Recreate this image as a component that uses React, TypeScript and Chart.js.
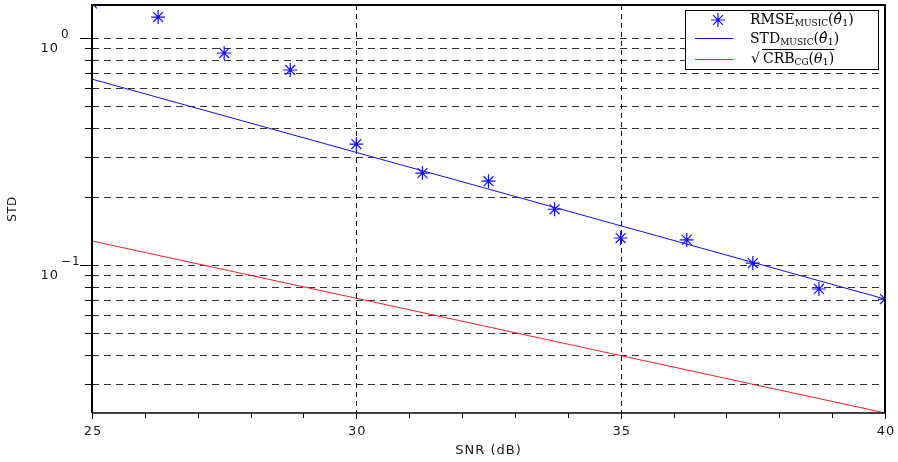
import React, { useEffect, useRef } from "react";
import { Chart, registerables } from "chart.js";

Chart.register(...registerables);

// ---- data ----
const snrPoints = [25, 26.25, 27.5, 28.75, 30, 31.25, 32.5, 33.75, 35, 36.25, 37.5, 38.75, 40];
const rmseMusic = [1.42, 1.237, 0.859, 0.723, 0.341, 0.254, 0.234, 0.176, 0.1315, 0.129, 0.102, 0.0784, 0.0708];
const lineSnr = [25, 40];
const stdMusic = [0.659, 0.0708];
const crbCG = [0.1276, 0.0223];

const xMajorTicks = [25, 30, 35, 40];
const xMinorTicks = [26, 27, 28, 29, 31, 32, 33, 34, 36, 37, 38, 39];
const xGridValues = [30, 35];
const yMajorTicks = [1, 0.1];
const yMajorLabels = [
  { base: "10", exp: "0" },
  { base: "10", exp: "\u22121" },
];
const yMinorTicks = [0.9, 0.8, 0.7, 0.6, 0.5, 0.4, 0.3, 0.2, 0.09, 0.08, 0.07, 0.06, 0.05, 0.04, 0.03];
const yMin = 0.02228;
const yMax = 1.398;

const BLUE = "#1010ff";
const RED = "#ff2020";

type Seg = { t: string; font: string; dy?: number };

function drawSegs(ctx: CanvasRenderingContext2D, x: number, y: number, segs: Seg[]) {
  let cx = x;
  for (const s of segs) {
    ctx.font = s.font;
    ctx.fillText(s.t, cx, y + (s.dy || 0));
    cx += ctx.measureText(s.t).width;
  }
  return cx;
}

const plotPlugin = {
  id: "plotDecor",
  beforeDraw(chart: any) {
    const { ctx, width, height } = chart;
    ctx.save();
    ctx.fillStyle = "#ffffff";
    ctx.fillRect(0, 0, width, height);
    ctx.restore();
  },
  beforeDatasetsDraw(chart: any) {
    const { ctx, chartArea: a, scales } = chart;
    const xs = scales.x;
    const ys = scales.y;
    ctx.save();
    ctx.lineWidth = 1;
    ctx.strokeStyle = "#333333";
    ctx.setLineDash([7, 5]);
    for (const v of [...yMajorTicks, ...yMinorTicks]) {
      const py = Math.round(ys.getPixelForValue(v)) + 0.5;
      ctx.beginPath();
      ctx.moveTo(a.left, py);
      ctx.lineTo(a.right, py);
      ctx.stroke();
    }
    ctx.strokeStyle = "#111111";
    ctx.setLineDash([5, 4]);
    for (const v of xGridValues) {
      const px = Math.round(xs.getPixelForValue(v)) + 0.5;
      ctx.beginPath();
      ctx.moveTo(px, a.top);
      ctx.lineTo(px, a.bottom);
      ctx.stroke();
    }
    ctx.restore();
  },
  afterDatasetsDraw(chart: any) {
    const { ctx, chartArea: a, scales } = chart;
    const xs = scales.x;
    const ys = scales.y;
    ctx.save();
    // axes box
    ctx.setLineDash([]);
    ctx.strokeStyle = "#000000";
    ctx.lineWidth = 2;
    ctx.beginPath();
    ctx.moveTo(a.left, a.bottom);
    ctx.lineTo(a.left, a.top);
    ctx.lineTo(a.right, a.top);
    ctx.lineTo(a.right, a.bottom);
    ctx.stroke();
    ctx.lineWidth = 1.5;
    ctx.beginPath();
    ctx.moveTo(a.left, a.bottom);
    ctx.lineTo(a.right, a.bottom);
    ctx.stroke();

    // y ticks (outward)
    ctx.lineWidth = 1;
    for (const v of yMajorTicks) {
      const py = Math.round(ys.getPixelForValue(v)) + 0.5;
      ctx.beginPath();
      ctx.moveTo(a.left - 12, py);
      ctx.lineTo(a.left, py);
      ctx.stroke();
    }
    for (const v of yMinorTicks) {
      const py = Math.round(ys.getPixelForValue(v)) + 0.5;
      ctx.beginPath();
      ctx.moveTo(a.left - 7, py);
      ctx.lineTo(a.left, py);
      ctx.stroke();
    }
    // x ticks (outward)
    for (const v of xMajorTicks) {
      const px = Math.round(xs.getPixelForValue(v)) + 0.5;
      ctx.beginPath();
      ctx.moveTo(px, a.bottom);
      ctx.lineTo(px, a.bottom + 6);
      ctx.stroke();
    }
    for (const v of xMinorTicks) {
      const px = Math.round(xs.getPixelForValue(v)) + 0.5;
      ctx.beginPath();
      ctx.moveTo(px, a.bottom);
      ctx.lineTo(px, a.bottom + 5);
      ctx.stroke();
    }

    // tick labels
    ctx.fillStyle = "#1a1a1a";
    (ctx as any).letterSpacing = "1px";
    ctx.textBaseline = "alphabetic";
    ctx.font = "13px 'DejaVu Sans'";
    ctx.textAlign = "center";
    for (const v of xMajorTicks) {
      const px = xs.getPixelForValue(v);
      ctx.fillText(String(v), px + 1, a.bottom + 22);
    }
    yMajorTicks.forEach((v, i) => {
      const py = ys.getPixelForValue(v);
      ctx.textAlign = "right";
      ctx.font = "13px 'DejaVu Sans'";
      ctx.fillText(yMajorLabels[i].base, 59, py + 14);
      ctx.textAlign = "left";
      ctx.font = "12px 'DejaVu Sans'";
      ctx.fillText(yMajorLabels[i].exp, 61, py);
    });

    // axis titles
    ctx.textAlign = "center";
    ctx.font = "13px 'DejaVu Sans'";
    ctx.fillText("SNR (dB)", (a.left + a.right) / 2, a.bottom + 41);
    ctx.save();
    ctx.translate(16, (a.top + a.bottom) / 2);
    ctx.rotate(-Math.PI / 2);
    (ctx as any).letterSpacing = "0.5px";
    ctx.font = "12px 'DejaVu Sans'";
    ctx.fillText("STD", 0, 0);
    ctx.restore();
    (ctx as any).letterSpacing = "0px";

    // legend
    const lx = 685.5;
    const ly = 10.5;
    const lw = 193;
    const lh = 59;
    ctx.fillStyle = "#ffffff";
    ctx.fillRect(lx, ly, lw, lh);
    ctx.strokeStyle = "#000000";
    ctx.lineWidth = 1;
    ctx.strokeRect(lx, ly, lw, lh);

    // row 1 marker: star
    const sx = 718;
    const sy = 20;
    const r = 7;
    ctx.strokeStyle = BLUE;
    ctx.lineWidth = 1.2;
    ctx.beginPath();
    ctx.moveTo(sx - r, sy);
    ctx.lineTo(sx + r, sy);
    ctx.moveTo(sx, sy - r);
    ctx.lineTo(sx, sy + r);
    const d = r * Math.SQRT1_2;
    ctx.moveTo(sx - d, sy - d);
    ctx.lineTo(sx + d, sy + d);
    ctx.moveTo(sx - d, sy + d);
    ctx.lineTo(sx + d, sy - d);
    ctx.stroke();
    // row 2 marker: blue line
    ctx.lineWidth = 1;
    ctx.beginPath();
    ctx.moveTo(695, 38.5);
    ctx.lineTo(733, 38.5);
    ctx.stroke();
    // row 3 marker: red line
    ctx.strokeStyle = RED;
    ctx.beginPath();
    ctx.moveTo(695, 59.5);
    ctx.lineTo(733, 59.5);
    ctx.stroke();

    ctx.fillStyle = "#000000";
    ctx.textAlign = "left";
    const big = "14px 'DejaVu Serif'";
    const small = "9px 'DejaVu Serif'";
    const it = "italic 14px 'DejaVu Serif'";
    const sub = "10px 'DejaVu Serif'";
    drawSegs(ctx, 750, 24, [
      { t: "RMSE", font: big },
      { t: "MUSIC", font: small, dy: 2 },
      { t: "(", font: big },
      { t: "\u03B8\u0302", font: it },
      { t: "1", font: sub, dy: 2 },
      { t: ")", font: big },
    ]);
    drawSegs(ctx, 750, 43, [
      { t: "STD", font: big },
      { t: "MUSIC", font: small, dy: 2 },
      { t: "(", font: big },
      { t: "\u03B8\u0302", font: it },
      { t: "1", font: sub, dy: 2 },
      { t: ")", font: big },
    ]);
    ctx.font = big;
    ctx.fillText("\u221A", 751, 63);
    const startX = 763;
    const endX = drawSegs(ctx, startX, 63, [
      { t: "CRB", font: big },
      { t: "CG", font: small, dy: 2 },
      { t: "(", font: big },
      { t: "\u03B8", font: it },
      { t: "1", font: sub, dy: 2 },
      { t: ")", font: big },
    ]);
    ctx.strokeStyle = "#000000";
    ctx.lineWidth = 1;
    ctx.beginPath();
    ctx.moveTo(startX - 1, 49.5);
    ctx.lineTo(endX, 49.5);
    ctx.stroke();
    ctx.restore();
  },
};

export default function App() {
  const canvasRef = useRef<HTMLCanvasElement | null>(null);

  useEffect(() => {
    const canvas = canvasRef.current;
    if (!canvas) return;
    const chart = new Chart(canvas, {
      type: "scatter",
      data: {
        datasets: [
          {
            label: "RMSE",
            data: snrPoints.map((x, i) => ({ x, y: rmseMusic[i] })),
            showLine: false,
            pointStyle: "star",
            pointRadius: 7,
            pointBorderColor: BLUE,
            pointBackgroundColor: BLUE,
            pointBorderWidth: 1.2,
            borderColor: BLUE,
          },
          {
            label: "STD",
            data: lineSnr.map((x, i) => ({ x, y: stdMusic[i] })),
            showLine: true,
            pointRadius: 0,
            borderColor: BLUE,
            borderWidth: 1,
          },
          {
            label: "CRB",
            data: lineSnr.map((x, i) => ({ x, y: crbCG[i] })),
            showLine: true,
            pointRadius: 0,
            borderColor: RED,
            borderWidth: 1,
          },
        ],
      },
      options: {
        responsive: false,
        animation: false,
        devicePixelRatio: 1,
        layout: { autoPadding: false, padding: { left: 92, top: 5, right: 13, bottom: 49 } },
        plugins: { legend: { display: false }, tooltip: { enabled: false } },
        events: [],
        scales: {
          x: { type: "linear", min: 25, max: 40, display: false },
          y: { type: "logarithmic", min: yMin, max: yMax, display: false },
        },
      },
      plugins: [plotPlugin],
    });
    return () => chart.destroy();
  }, []);

  return (
    <div style={{ position: "fixed", left: 0, top: 0, width: 898, height: 462, background: "#fff" }}>
      <canvas ref={canvasRef} width={898} height={462} style={{ display: "block" }} />
    </div>
  );
}
